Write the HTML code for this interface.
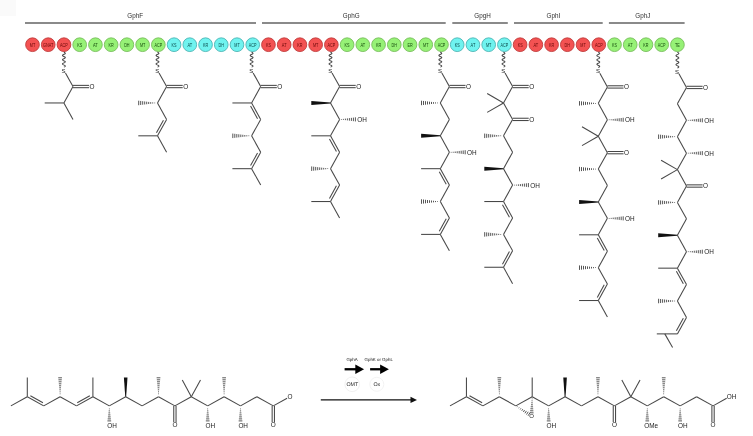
<!DOCTYPE html>
<html><head><meta charset="utf-8"><style>
html,body{margin:0;padding:0;background:#fff;}
body{width:753px;height:436px;overflow:hidden;font-family:"Liberation Sans",sans-serif;}
svg{display:block;will-change:transform;}
.gp{text-rendering:geometricPrecision;}
</style></head><body>
<svg width="753" height="436" viewBox="0 0 753 436">
<rect width="753" height="436" fill="#fff"/>
<rect width="16" height="16" fill="#fafafa"/>
<rect x="25" y="22" width="231" height="2" fill="#8a8a8a"/>
<text x="135.2" y="17.6" font-size="6.3" text-anchor="middle" fill="#2e2e2e" font-weight="normal" font-family="Liberation Sans">GphF</text>
<rect x="262" y="22" width="183.7" height="2" fill="#8a8a8a"/>
<text x="351.2" y="17.6" font-size="6.3" text-anchor="middle" fill="#2e2e2e" font-weight="normal" font-family="Liberation Sans">GphG</text>
<rect x="452.3" y="22" width="55.5" height="2" fill="#8a8a8a"/>
<text x="482.5" y="17.6" font-size="6.3" text-anchor="middle" fill="#2e2e2e" font-weight="normal" font-family="Liberation Sans">GpgH</text>
<rect x="514" y="22" width="88.7" height="2" fill="#8a8a8a"/>
<text x="553.4" y="17.6" font-size="6.3" text-anchor="middle" fill="#2e2e2e" font-weight="normal" font-family="Liberation Sans">GphI</text>
<rect x="608.9" y="22" width="75.7" height="2" fill="#8a8a8a"/>
<text x="642.8" y="17.6" font-size="6.3" text-anchor="middle" fill="#2e2e2e" font-weight="normal" font-family="Liberation Sans">GphJ</text>
<circle cx="32.5" cy="44.7" r="6.85" fill="#f35252" stroke="#c03c3c" stroke-width="0.9"/>
<text x="32.5" y="46.5" font-size="5.0" text-anchor="middle" fill="#6a0808" font-family="Liberation Sans" textLength="5.42" lengthAdjust="spacingAndGlyphs">MT</text>
<circle cx="48.23" cy="44.7" r="6.85" fill="#f35252" stroke="#c03c3c" stroke-width="0.9"/>
<text x="48.23" y="46.5" font-size="5.0" text-anchor="middle" fill="#6a0808" font-family="Liberation Sans" textLength="10.4" lengthAdjust="spacingAndGlyphs">GNAT</text>
<circle cx="63.96" cy="44.7" r="6.85" fill="#f35252" stroke="#c03c3c" stroke-width="0.9"/>
<text x="63.96" y="46.5" font-size="5.0" text-anchor="middle" fill="#6a0808" font-family="Liberation Sans" textLength="7.71" lengthAdjust="spacingAndGlyphs">ACP</text>
<circle cx="79.69" cy="44.7" r="6.85" fill="#96f176" stroke="#78bd5c" stroke-width="0.9"/>
<text x="79.69" y="46.5" font-size="5.0" text-anchor="middle" fill="#164d0c" font-family="Liberation Sans" textLength="5" lengthAdjust="spacingAndGlyphs">KS</text>
<circle cx="95.42" cy="44.7" r="6.85" fill="#96f176" stroke="#78bd5c" stroke-width="0.9"/>
<text x="95.42" y="46.5" font-size="5.0" text-anchor="middle" fill="#164d0c" font-family="Liberation Sans" textLength="4.79" lengthAdjust="spacingAndGlyphs">AT</text>
<circle cx="111.15" cy="44.7" r="6.85" fill="#96f176" stroke="#78bd5c" stroke-width="0.9"/>
<text x="111.15" y="46.5" font-size="5.0" text-anchor="middle" fill="#164d0c" font-family="Liberation Sans" textLength="5.21" lengthAdjust="spacingAndGlyphs">KR</text>
<circle cx="126.88" cy="44.7" r="6.85" fill="#96f176" stroke="#78bd5c" stroke-width="0.9"/>
<text x="126.88" y="46.5" font-size="5.0" text-anchor="middle" fill="#164d0c" font-family="Liberation Sans" textLength="5.42" lengthAdjust="spacingAndGlyphs">DH</text>
<circle cx="142.61" cy="44.7" r="6.85" fill="#96f176" stroke="#78bd5c" stroke-width="0.9"/>
<text x="142.61" y="46.5" font-size="5.0" text-anchor="middle" fill="#164d0c" font-family="Liberation Sans" textLength="5.42" lengthAdjust="spacingAndGlyphs">MT</text>
<circle cx="158.34" cy="44.7" r="6.85" fill="#96f176" stroke="#78bd5c" stroke-width="0.9"/>
<text x="158.34" y="46.5" font-size="5.0" text-anchor="middle" fill="#164d0c" font-family="Liberation Sans" textLength="7.71" lengthAdjust="spacingAndGlyphs">ACP</text>
<circle cx="174.07" cy="44.7" r="6.85" fill="#6ff3ef" stroke="#4db4b4" stroke-width="0.9"/>
<text x="174.07" y="46.5" font-size="5.0" text-anchor="middle" fill="#0a4a4a" font-family="Liberation Sans" textLength="5" lengthAdjust="spacingAndGlyphs">KS</text>
<circle cx="189.8" cy="44.7" r="6.85" fill="#6ff3ef" stroke="#4db4b4" stroke-width="0.9"/>
<text x="189.8" y="46.5" font-size="5.0" text-anchor="middle" fill="#0a4a4a" font-family="Liberation Sans" textLength="4.79" lengthAdjust="spacingAndGlyphs">AT</text>
<circle cx="205.53" cy="44.7" r="6.85" fill="#6ff3ef" stroke="#4db4b4" stroke-width="0.9"/>
<text x="205.53" y="46.5" font-size="5.0" text-anchor="middle" fill="#0a4a4a" font-family="Liberation Sans" textLength="5.21" lengthAdjust="spacingAndGlyphs">KR</text>
<circle cx="221.26" cy="44.7" r="6.85" fill="#6ff3ef" stroke="#4db4b4" stroke-width="0.9"/>
<text x="221.26" y="46.5" font-size="5.0" text-anchor="middle" fill="#0a4a4a" font-family="Liberation Sans" textLength="5.42" lengthAdjust="spacingAndGlyphs">DH</text>
<circle cx="236.99" cy="44.7" r="6.85" fill="#6ff3ef" stroke="#4db4b4" stroke-width="0.9"/>
<text x="236.99" y="46.5" font-size="5.0" text-anchor="middle" fill="#0a4a4a" font-family="Liberation Sans" textLength="5.42" lengthAdjust="spacingAndGlyphs">MT</text>
<circle cx="252.72" cy="44.7" r="6.85" fill="#6ff3ef" stroke="#4db4b4" stroke-width="0.9"/>
<text x="252.72" y="46.5" font-size="5.0" text-anchor="middle" fill="#0a4a4a" font-family="Liberation Sans" textLength="7.71" lengthAdjust="spacingAndGlyphs">ACP</text>
<circle cx="268.45" cy="44.7" r="6.85" fill="#f35252" stroke="#c03c3c" stroke-width="0.9"/>
<text x="268.45" y="46.5" font-size="5.0" text-anchor="middle" fill="#6a0808" font-family="Liberation Sans" textLength="5" lengthAdjust="spacingAndGlyphs">KS</text>
<circle cx="284.18" cy="44.7" r="6.85" fill="#f35252" stroke="#c03c3c" stroke-width="0.9"/>
<text x="284.18" y="46.5" font-size="5.0" text-anchor="middle" fill="#6a0808" font-family="Liberation Sans" textLength="4.79" lengthAdjust="spacingAndGlyphs">AT</text>
<circle cx="299.91" cy="44.7" r="6.85" fill="#f35252" stroke="#c03c3c" stroke-width="0.9"/>
<text x="299.91" y="46.5" font-size="5.0" text-anchor="middle" fill="#6a0808" font-family="Liberation Sans" textLength="5.21" lengthAdjust="spacingAndGlyphs">KR</text>
<circle cx="315.64" cy="44.7" r="6.85" fill="#f35252" stroke="#c03c3c" stroke-width="0.9"/>
<text x="315.64" y="46.5" font-size="5.0" text-anchor="middle" fill="#6a0808" font-family="Liberation Sans" textLength="5.42" lengthAdjust="spacingAndGlyphs">MT</text>
<circle cx="331.37" cy="44.7" r="6.85" fill="#f35252" stroke="#c03c3c" stroke-width="0.9"/>
<text x="331.37" y="46.5" font-size="5.0" text-anchor="middle" fill="#6a0808" font-family="Liberation Sans" textLength="7.71" lengthAdjust="spacingAndGlyphs">ACP</text>
<circle cx="347.1" cy="44.7" r="6.85" fill="#96f176" stroke="#78bd5c" stroke-width="0.9"/>
<text x="347.1" y="46.5" font-size="5.0" text-anchor="middle" fill="#164d0c" font-family="Liberation Sans" textLength="5" lengthAdjust="spacingAndGlyphs">KS</text>
<circle cx="362.83" cy="44.7" r="6.85" fill="#96f176" stroke="#78bd5c" stroke-width="0.9"/>
<text x="362.83" y="46.5" font-size="5.0" text-anchor="middle" fill="#164d0c" font-family="Liberation Sans" textLength="4.79" lengthAdjust="spacingAndGlyphs">AT</text>
<circle cx="378.56" cy="44.7" r="6.85" fill="#96f176" stroke="#78bd5c" stroke-width="0.9"/>
<text x="378.56" y="46.5" font-size="5.0" text-anchor="middle" fill="#164d0c" font-family="Liberation Sans" textLength="5.21" lengthAdjust="spacingAndGlyphs">KR</text>
<circle cx="394.29" cy="44.7" r="6.85" fill="#96f176" stroke="#78bd5c" stroke-width="0.9"/>
<text x="394.29" y="46.5" font-size="5.0" text-anchor="middle" fill="#164d0c" font-family="Liberation Sans" textLength="5.42" lengthAdjust="spacingAndGlyphs">DH</text>
<circle cx="410.02" cy="44.7" r="6.85" fill="#96f176" stroke="#78bd5c" stroke-width="0.9"/>
<text x="410.02" y="46.5" font-size="5.0" text-anchor="middle" fill="#164d0c" font-family="Liberation Sans" textLength="5.21" lengthAdjust="spacingAndGlyphs">ER</text>
<circle cx="425.75" cy="44.7" r="6.85" fill="#96f176" stroke="#78bd5c" stroke-width="0.9"/>
<text x="425.75" y="46.5" font-size="5.0" text-anchor="middle" fill="#164d0c" font-family="Liberation Sans" textLength="5.42" lengthAdjust="spacingAndGlyphs">MT</text>
<circle cx="441.48" cy="44.7" r="6.85" fill="#96f176" stroke="#78bd5c" stroke-width="0.9"/>
<text x="441.48" y="46.5" font-size="5.0" text-anchor="middle" fill="#164d0c" font-family="Liberation Sans" textLength="7.71" lengthAdjust="spacingAndGlyphs">ACP</text>
<circle cx="457.21" cy="44.7" r="6.85" fill="#6ff3ef" stroke="#4db4b4" stroke-width="0.9"/>
<text x="457.21" y="46.5" font-size="5.0" text-anchor="middle" fill="#0a4a4a" font-family="Liberation Sans" textLength="5" lengthAdjust="spacingAndGlyphs">KS</text>
<circle cx="472.94" cy="44.7" r="6.85" fill="#6ff3ef" stroke="#4db4b4" stroke-width="0.9"/>
<text x="472.94" y="46.5" font-size="5.0" text-anchor="middle" fill="#0a4a4a" font-family="Liberation Sans" textLength="4.79" lengthAdjust="spacingAndGlyphs">AT</text>
<circle cx="488.67" cy="44.7" r="6.85" fill="#6ff3ef" stroke="#4db4b4" stroke-width="0.9"/>
<text x="488.67" y="46.5" font-size="5.0" text-anchor="middle" fill="#0a4a4a" font-family="Liberation Sans" textLength="5.42" lengthAdjust="spacingAndGlyphs">MT</text>
<circle cx="504.4" cy="44.7" r="6.85" fill="#6ff3ef" stroke="#4db4b4" stroke-width="0.9"/>
<text x="504.4" y="46.5" font-size="5.0" text-anchor="middle" fill="#0a4a4a" font-family="Liberation Sans" textLength="7.71" lengthAdjust="spacingAndGlyphs">ACP</text>
<circle cx="520.13" cy="44.7" r="6.85" fill="#f35252" stroke="#c03c3c" stroke-width="0.9"/>
<text x="520.13" y="46.5" font-size="5.0" text-anchor="middle" fill="#6a0808" font-family="Liberation Sans" textLength="5" lengthAdjust="spacingAndGlyphs">KS</text>
<circle cx="535.86" cy="44.7" r="6.85" fill="#f35252" stroke="#c03c3c" stroke-width="0.9"/>
<text x="535.86" y="46.5" font-size="5.0" text-anchor="middle" fill="#6a0808" font-family="Liberation Sans" textLength="4.79" lengthAdjust="spacingAndGlyphs">AT</text>
<circle cx="551.59" cy="44.7" r="6.85" fill="#f35252" stroke="#c03c3c" stroke-width="0.9"/>
<text x="551.59" y="46.5" font-size="5.0" text-anchor="middle" fill="#6a0808" font-family="Liberation Sans" textLength="5.21" lengthAdjust="spacingAndGlyphs">KR</text>
<circle cx="567.32" cy="44.7" r="6.85" fill="#f35252" stroke="#c03c3c" stroke-width="0.9"/>
<text x="567.32" y="46.5" font-size="5.0" text-anchor="middle" fill="#6a0808" font-family="Liberation Sans" textLength="5.42" lengthAdjust="spacingAndGlyphs">DH</text>
<circle cx="583.05" cy="44.7" r="6.85" fill="#f35252" stroke="#c03c3c" stroke-width="0.9"/>
<text x="583.05" y="46.5" font-size="5.0" text-anchor="middle" fill="#6a0808" font-family="Liberation Sans" textLength="5.42" lengthAdjust="spacingAndGlyphs">MT</text>
<circle cx="598.78" cy="44.7" r="6.85" fill="#f35252" stroke="#c03c3c" stroke-width="0.9"/>
<text x="598.78" y="46.5" font-size="5.0" text-anchor="middle" fill="#6a0808" font-family="Liberation Sans" textLength="7.71" lengthAdjust="spacingAndGlyphs">ACP</text>
<circle cx="614.51" cy="44.7" r="6.85" fill="#96f176" stroke="#78bd5c" stroke-width="0.9"/>
<text x="614.51" y="46.5" font-size="5.0" text-anchor="middle" fill="#164d0c" font-family="Liberation Sans" textLength="5" lengthAdjust="spacingAndGlyphs">KS</text>
<circle cx="630.24" cy="44.7" r="6.85" fill="#96f176" stroke="#78bd5c" stroke-width="0.9"/>
<text x="630.24" y="46.5" font-size="5.0" text-anchor="middle" fill="#164d0c" font-family="Liberation Sans" textLength="4.79" lengthAdjust="spacingAndGlyphs">AT</text>
<circle cx="645.97" cy="44.7" r="6.85" fill="#96f176" stroke="#78bd5c" stroke-width="0.9"/>
<text x="645.97" y="46.5" font-size="5.0" text-anchor="middle" fill="#164d0c" font-family="Liberation Sans" textLength="5.21" lengthAdjust="spacingAndGlyphs">KR</text>
<circle cx="661.7" cy="44.7" r="6.85" fill="#96f176" stroke="#78bd5c" stroke-width="0.9"/>
<text x="661.7" y="46.5" font-size="5.0" text-anchor="middle" fill="#164d0c" font-family="Liberation Sans" textLength="7.71" lengthAdjust="spacingAndGlyphs">ACP</text>
<circle cx="677.43" cy="44.7" r="6.85" fill="#96f176" stroke="#78bd5c" stroke-width="0.9"/>
<text x="677.43" y="46.5" font-size="5.0" text-anchor="middle" fill="#164d0c" font-family="Liberation Sans" textLength="4.79" lengthAdjust="spacingAndGlyphs">TE</text>
<polyline points="63.9,52.3 64.4,52.55 64.84,52.79 65.15,53.04 65.29,53.29 65.25,53.53 65.03,53.78 64.66,54.03 64.19,54.27 63.68,54.52 63.2,54.77 62.81,55.01 62.57,55.26 62.5,55.51 62.62,55.75 62.91,56 63.33,56.25 63.83,56.49 64.33,56.74 64.78,56.99 65.11,57.23 65.28,57.48 65.27,57.73 65.07,57.97 64.72,58.22 64.26,58.47 63.75,58.71 63.26,58.96 62.86,59.21 62.59,59.45 62.5,59.7 62.59,59.95 62.86,60.19 63.26,60.44 63.75,60.69 64.26,60.93 64.72,61.18 65.07,61.43 65.27,61.67 65.28,61.92 65.11,62.17 64.78,62.41 64.33,62.66 63.83,62.91 63.33,63.15 62.91,63.4 62.62,63.65 62.5,63.89 62.57,64.14 62.81,64.39 63.2,64.63 63.68,64.88 64.19,65.13 64.66,65.37 65.03,65.62 65.25,65.87 65.29,66.11 65.15,66.36 64.84,66.61 64.4,66.85 63.9,67.1" fill="none" stroke="#474747" stroke-width="1.05"/>
<text x="63.6" y="72.86" font-size="6.0" text-anchor="middle" fill="#161616" font-weight="normal" font-family="Liberation Sans">S</text>
<line x1="65.45" y1="72.9" x2="73" y2="86.53" stroke="#474747" stroke-width="1.05"/>
<line x1="73" y1="86.53" x2="63.9" y2="102.96" stroke="#474747" stroke-width="1.05"/>
<line x1="63.9" y1="102.96" x2="73" y2="119.39" stroke="#474747" stroke-width="1.05"/>
<line x1="73" y1="85.38" x2="89.1" y2="85.38" stroke="#474747" stroke-width="1.05"/>
<line x1="73" y1="87.68" x2="89.1" y2="87.68" stroke="#474747" stroke-width="1.05"/>
<text x="92.1" y="88.83" font-size="6.4" text-anchor="middle" fill="#222" font-weight="normal" font-family="Liberation Sans">O</text>
<line x1="63.9" y1="102.96" x2="44.7" y2="102.96" stroke="#474747" stroke-width="1.05"/>
<polyline points="157.5,52.3 158,52.55 158.44,52.79 158.75,53.04 158.89,53.29 158.85,53.53 158.63,53.78 158.26,54.03 157.79,54.27 157.28,54.52 156.8,54.77 156.41,55.01 156.17,55.26 156.1,55.51 156.22,55.75 156.51,56 156.93,56.25 157.43,56.49 157.93,56.74 158.38,56.99 158.71,57.23 158.88,57.48 158.87,57.73 158.67,57.97 158.32,58.22 157.86,58.47 157.35,58.71 156.86,58.96 156.46,59.21 156.19,59.45 156.1,59.7 156.19,59.95 156.46,60.19 156.86,60.44 157.35,60.69 157.86,60.93 158.32,61.18 158.67,61.43 158.87,61.67 158.88,61.92 158.71,62.17 158.38,62.41 157.93,62.66 157.43,62.91 156.93,63.15 156.51,63.4 156.22,63.65 156.1,63.89 156.17,64.14 156.41,64.39 156.8,64.63 157.28,64.88 157.79,65.13 158.26,65.37 158.63,65.62 158.85,65.87 158.89,66.11 158.75,66.36 158.44,66.61 158,66.85 157.5,67.1" fill="none" stroke="#474747" stroke-width="1.05"/>
<text x="157.2" y="72.86" font-size="6.0" text-anchor="middle" fill="#161616" font-weight="normal" font-family="Liberation Sans">S</text>
<line x1="159.05" y1="72.9" x2="166.6" y2="86.53" stroke="#474747" stroke-width="1.05"/>
<line x1="166.6" y1="86.53" x2="157.5" y2="102.96" stroke="#474747" stroke-width="1.05"/>
<line x1="157.5" y1="102.96" x2="166.6" y2="119.39" stroke="#474747" stroke-width="1.05"/>
<line x1="166.6" y1="119.39" x2="157.5" y2="135.82" stroke="#474747" stroke-width="1.05"/>
<line x1="163.43" y1="120.15" x2="156.47" y2="132.73" stroke="#474747" stroke-width="1.05"/>
<line x1="157.5" y1="135.82" x2="166.6" y2="152.25" stroke="#474747" stroke-width="1.05"/>
<line x1="166.6" y1="85.38" x2="182.7" y2="85.38" stroke="#474747" stroke-width="1.05"/>
<line x1="166.6" y1="87.68" x2="182.7" y2="87.68" stroke="#474747" stroke-width="1.05"/>
<text x="185.7" y="88.83" font-size="6.4" text-anchor="middle" fill="#222" font-weight="normal" font-family="Liberation Sans">O</text>
<line x1="138.7" y1="100.71" x2="138.7" y2="105.21" stroke="#383838" stroke-width="0.85"/>
<line x1="140.7" y1="100.95" x2="140.7" y2="104.97" stroke="#383838" stroke-width="0.85"/>
<line x1="142.7" y1="101.19" x2="142.7" y2="104.73" stroke="#383838" stroke-width="0.85"/>
<line x1="144.7" y1="101.43" x2="144.7" y2="104.49" stroke="#383838" stroke-width="0.85"/>
<line x1="146.7" y1="101.67" x2="146.7" y2="104.25" stroke="#383838" stroke-width="0.85"/>
<line x1="148.7" y1="101.91" x2="148.7" y2="104.01" stroke="#383838" stroke-width="0.85"/>
<line x1="150.7" y1="102.15" x2="150.7" y2="103.77" stroke="#383838" stroke-width="0.85"/>
<line x1="152.7" y1="102.38" x2="152.7" y2="103.53" stroke="#383838" stroke-width="0.85"/>
<line x1="154.7" y1="102.61" x2="154.7" y2="103.31" stroke="#383838" stroke-width="0.85"/>
<line x1="157.5" y1="135.82" x2="138.3" y2="135.82" stroke="#474747" stroke-width="1.05"/>
<polyline points="251.6,52.3 252.1,52.55 252.54,52.79 252.85,53.04 252.99,53.29 252.95,53.53 252.73,53.78 252.36,54.03 251.89,54.27 251.38,54.52 250.9,54.77 250.51,55.01 250.27,55.26 250.2,55.51 250.32,55.75 250.61,56 251.03,56.25 251.53,56.49 252.03,56.74 252.48,56.99 252.81,57.23 252.98,57.48 252.97,57.73 252.77,57.97 252.42,58.22 251.96,58.47 251.45,58.71 250.96,58.96 250.56,59.21 250.29,59.45 250.2,59.7 250.29,59.95 250.56,60.19 250.96,60.44 251.45,60.69 251.96,60.93 252.42,61.18 252.77,61.43 252.97,61.67 252.98,61.92 252.81,62.17 252.48,62.41 252.03,62.66 251.53,62.91 251.03,63.15 250.61,63.4 250.32,63.65 250.2,63.89 250.27,64.14 250.51,64.39 250.9,64.63 251.38,64.88 251.89,65.13 252.36,65.37 252.73,65.62 252.95,65.87 252.99,66.11 252.85,66.36 252.54,66.61 252.1,66.85 251.6,67.1" fill="none" stroke="#474747" stroke-width="1.05"/>
<text x="251.3" y="72.86" font-size="6.0" text-anchor="middle" fill="#161616" font-weight="normal" font-family="Liberation Sans">S</text>
<line x1="253.15" y1="72.9" x2="260.7" y2="86.53" stroke="#474747" stroke-width="1.05"/>
<line x1="260.7" y1="86.53" x2="251.6" y2="102.96" stroke="#474747" stroke-width="1.05"/>
<line x1="251.6" y1="102.96" x2="260.7" y2="119.39" stroke="#474747" stroke-width="1.05"/>
<line x1="250.57" y1="106.05" x2="257.53" y2="118.63" stroke="#474747" stroke-width="1.05"/>
<line x1="260.7" y1="119.39" x2="251.6" y2="135.82" stroke="#474747" stroke-width="1.05"/>
<line x1="251.6" y1="135.82" x2="260.7" y2="152.25" stroke="#474747" stroke-width="1.05"/>
<line x1="260.7" y1="152.25" x2="251.6" y2="168.68" stroke="#474747" stroke-width="1.05"/>
<line x1="257.53" y1="153.01" x2="250.57" y2="165.59" stroke="#474747" stroke-width="1.05"/>
<line x1="251.6" y1="168.68" x2="260.7" y2="185.11" stroke="#474747" stroke-width="1.05"/>
<line x1="260.7" y1="85.38" x2="276.8" y2="85.38" stroke="#474747" stroke-width="1.05"/>
<line x1="260.7" y1="87.68" x2="276.8" y2="87.68" stroke="#474747" stroke-width="1.05"/>
<text x="279.8" y="88.83" font-size="6.4" text-anchor="middle" fill="#222" font-weight="normal" font-family="Liberation Sans">O</text>
<line x1="251.6" y1="102.96" x2="232.4" y2="102.96" stroke="#474747" stroke-width="1.05"/>
<line x1="232.8" y1="133.57" x2="232.8" y2="138.07" stroke="#383838" stroke-width="0.85"/>
<line x1="234.8" y1="133.81" x2="234.8" y2="137.83" stroke="#383838" stroke-width="0.85"/>
<line x1="236.8" y1="134.05" x2="236.8" y2="137.59" stroke="#383838" stroke-width="0.85"/>
<line x1="238.8" y1="134.29" x2="238.8" y2="137.35" stroke="#383838" stroke-width="0.85"/>
<line x1="240.8" y1="134.53" x2="240.8" y2="137.11" stroke="#383838" stroke-width="0.85"/>
<line x1="242.8" y1="134.77" x2="242.8" y2="136.87" stroke="#383838" stroke-width="0.85"/>
<line x1="244.8" y1="135.01" x2="244.8" y2="136.63" stroke="#383838" stroke-width="0.85"/>
<line x1="246.8" y1="135.25" x2="246.8" y2="136.39" stroke="#383838" stroke-width="0.85"/>
<line x1="248.8" y1="135.47" x2="248.8" y2="136.17" stroke="#383838" stroke-width="0.85"/>
<line x1="251.6" y1="168.68" x2="232.4" y2="168.68" stroke="#474747" stroke-width="1.05"/>
<polyline points="330.5,52.3 331,52.55 331.44,52.79 331.75,53.04 331.89,53.29 331.85,53.53 331.63,53.78 331.26,54.03 330.79,54.27 330.28,54.52 329.8,54.77 329.41,55.01 329.17,55.26 329.1,55.51 329.22,55.75 329.51,56 329.93,56.25 330.43,56.49 330.93,56.74 331.38,56.99 331.71,57.23 331.88,57.48 331.87,57.73 331.67,57.97 331.32,58.22 330.86,58.47 330.35,58.71 329.86,58.96 329.46,59.21 329.19,59.45 329.1,59.7 329.19,59.95 329.46,60.19 329.86,60.44 330.35,60.69 330.86,60.93 331.32,61.18 331.67,61.43 331.87,61.67 331.88,61.92 331.71,62.17 331.38,62.41 330.93,62.66 330.43,62.91 329.93,63.15 329.51,63.4 329.22,63.65 329.1,63.89 329.17,64.14 329.41,64.39 329.8,64.63 330.28,64.88 330.79,65.13 331.26,65.37 331.63,65.62 331.85,65.87 331.89,66.11 331.75,66.36 331.44,66.61 331,66.85 330.5,67.1" fill="none" stroke="#474747" stroke-width="1.05"/>
<text x="330.2" y="72.86" font-size="6.0" text-anchor="middle" fill="#161616" font-weight="normal" font-family="Liberation Sans">S</text>
<line x1="332.05" y1="72.9" x2="339.6" y2="86.53" stroke="#474747" stroke-width="1.05"/>
<line x1="339.6" y1="86.53" x2="330.5" y2="102.96" stroke="#474747" stroke-width="1.05"/>
<line x1="330.5" y1="102.96" x2="339.6" y2="119.39" stroke="#474747" stroke-width="1.05"/>
<line x1="339.6" y1="119.39" x2="330.5" y2="135.82" stroke="#474747" stroke-width="1.05"/>
<line x1="330.5" y1="135.82" x2="339.6" y2="152.25" stroke="#474747" stroke-width="1.05"/>
<line x1="329.47" y1="138.91" x2="336.43" y2="151.49" stroke="#474747" stroke-width="1.05"/>
<line x1="339.6" y1="152.25" x2="330.5" y2="168.68" stroke="#474747" stroke-width="1.05"/>
<line x1="330.5" y1="168.68" x2="339.6" y2="185.11" stroke="#474747" stroke-width="1.05"/>
<line x1="339.6" y1="185.11" x2="330.5" y2="201.54" stroke="#474747" stroke-width="1.05"/>
<line x1="336.43" y1="185.87" x2="329.47" y2="198.45" stroke="#474747" stroke-width="1.05"/>
<line x1="330.5" y1="201.54" x2="339.6" y2="217.97" stroke="#474747" stroke-width="1.05"/>
<line x1="339.6" y1="85.38" x2="355.7" y2="85.38" stroke="#474747" stroke-width="1.05"/>
<line x1="339.6" y1="87.68" x2="355.7" y2="87.68" stroke="#474747" stroke-width="1.05"/>
<text x="358.7" y="88.83" font-size="6.4" text-anchor="middle" fill="#222" font-weight="normal" font-family="Liberation Sans">O</text>
<polygon points="330.5,102.51 311.3,100.96 311.3,104.96 330.5,103.41" fill="#111"/>
<line x1="355.4" y1="121.44" x2="355.4" y2="117.34" stroke="#383838" stroke-width="0.85"/>
<line x1="353.4" y1="121.18" x2="353.4" y2="117.6" stroke="#383838" stroke-width="0.85"/>
<line x1="351.4" y1="120.92" x2="351.4" y2="117.86" stroke="#383838" stroke-width="0.85"/>
<line x1="349.4" y1="120.66" x2="349.4" y2="118.12" stroke="#383838" stroke-width="0.85"/>
<line x1="347.4" y1="120.4" x2="347.4" y2="118.38" stroke="#383838" stroke-width="0.85"/>
<line x1="345.4" y1="120.14" x2="345.4" y2="118.64" stroke="#383838" stroke-width="0.85"/>
<line x1="343.4" y1="119.88" x2="343.4" y2="118.9" stroke="#383838" stroke-width="0.85"/>
<line x1="341.4" y1="119.74" x2="341.4" y2="119.04" stroke="#383838" stroke-width="0.85"/>
<text x="357.3" y="121.84" font-size="6.4" text-anchor="start" fill="#222" font-weight="normal" font-family="Liberation Sans">OH</text>
<line x1="330.5" y1="135.82" x2="311.3" y2="135.82" stroke="#474747" stroke-width="1.05"/>
<line x1="311.7" y1="166.43" x2="311.7" y2="170.93" stroke="#383838" stroke-width="0.85"/>
<line x1="313.7" y1="166.67" x2="313.7" y2="170.69" stroke="#383838" stroke-width="0.85"/>
<line x1="315.7" y1="166.91" x2="315.7" y2="170.45" stroke="#383838" stroke-width="0.85"/>
<line x1="317.7" y1="167.15" x2="317.7" y2="170.21" stroke="#383838" stroke-width="0.85"/>
<line x1="319.7" y1="167.39" x2="319.7" y2="169.97" stroke="#383838" stroke-width="0.85"/>
<line x1="321.7" y1="167.63" x2="321.7" y2="169.73" stroke="#383838" stroke-width="0.85"/>
<line x1="323.7" y1="167.87" x2="323.7" y2="169.49" stroke="#383838" stroke-width="0.85"/>
<line x1="325.7" y1="168.11" x2="325.7" y2="169.25" stroke="#383838" stroke-width="0.85"/>
<line x1="327.7" y1="168.33" x2="327.7" y2="169.03" stroke="#383838" stroke-width="0.85"/>
<line x1="330.5" y1="201.54" x2="311.3" y2="201.54" stroke="#474747" stroke-width="1.05"/>
<polyline points="440.3,52.3 440.8,52.55 441.24,52.79 441.55,53.04 441.69,53.29 441.65,53.53 441.43,53.78 441.06,54.03 440.59,54.27 440.08,54.52 439.6,54.77 439.21,55.01 438.97,55.26 438.9,55.51 439.02,55.75 439.31,56 439.73,56.25 440.23,56.49 440.73,56.74 441.18,56.99 441.51,57.23 441.68,57.48 441.67,57.73 441.47,57.97 441.12,58.22 440.66,58.47 440.15,58.71 439.66,58.96 439.26,59.21 438.99,59.45 438.9,59.7 438.99,59.95 439.26,60.19 439.66,60.44 440.15,60.69 440.66,60.93 441.12,61.18 441.47,61.43 441.67,61.67 441.68,61.92 441.51,62.17 441.18,62.41 440.73,62.66 440.23,62.91 439.73,63.15 439.31,63.4 439.02,63.65 438.9,63.89 438.97,64.14 439.21,64.39 439.6,64.63 440.08,64.88 440.59,65.13 441.06,65.37 441.43,65.62 441.65,65.87 441.69,66.11 441.55,66.36 441.24,66.61 440.8,66.85 440.3,67.1" fill="none" stroke="#474747" stroke-width="1.05"/>
<text x="440" y="72.86" font-size="6.0" text-anchor="middle" fill="#161616" font-weight="normal" font-family="Liberation Sans">S</text>
<line x1="441.85" y1="72.9" x2="449.4" y2="86.53" stroke="#474747" stroke-width="1.05"/>
<line x1="449.4" y1="86.53" x2="440.3" y2="102.96" stroke="#474747" stroke-width="1.05"/>
<line x1="440.3" y1="102.96" x2="449.4" y2="119.39" stroke="#474747" stroke-width="1.05"/>
<line x1="449.4" y1="119.39" x2="440.3" y2="135.82" stroke="#474747" stroke-width="1.05"/>
<line x1="440.3" y1="135.82" x2="449.4" y2="152.25" stroke="#474747" stroke-width="1.05"/>
<line x1="449.4" y1="152.25" x2="440.3" y2="168.68" stroke="#474747" stroke-width="1.05"/>
<line x1="440.3" y1="168.68" x2="449.4" y2="185.11" stroke="#474747" stroke-width="1.05"/>
<line x1="439.27" y1="171.77" x2="446.23" y2="184.35" stroke="#474747" stroke-width="1.05"/>
<line x1="449.4" y1="185.11" x2="440.3" y2="201.54" stroke="#474747" stroke-width="1.05"/>
<line x1="440.3" y1="201.54" x2="449.4" y2="217.97" stroke="#474747" stroke-width="1.05"/>
<line x1="449.4" y1="217.97" x2="440.3" y2="234.4" stroke="#474747" stroke-width="1.05"/>
<line x1="446.23" y1="218.73" x2="439.27" y2="231.31" stroke="#474747" stroke-width="1.05"/>
<line x1="440.3" y1="234.4" x2="449.4" y2="250.83" stroke="#474747" stroke-width="1.05"/>
<line x1="449.4" y1="85.38" x2="465.5" y2="85.38" stroke="#474747" stroke-width="1.05"/>
<line x1="449.4" y1="87.68" x2="465.5" y2="87.68" stroke="#474747" stroke-width="1.05"/>
<text x="468.5" y="88.83" font-size="6.4" text-anchor="middle" fill="#222" font-weight="normal" font-family="Liberation Sans">O</text>
<line x1="421.5" y1="100.71" x2="421.5" y2="105.21" stroke="#383838" stroke-width="0.85"/>
<line x1="423.5" y1="100.95" x2="423.5" y2="104.97" stroke="#383838" stroke-width="0.85"/>
<line x1="425.5" y1="101.19" x2="425.5" y2="104.73" stroke="#383838" stroke-width="0.85"/>
<line x1="427.5" y1="101.43" x2="427.5" y2="104.49" stroke="#383838" stroke-width="0.85"/>
<line x1="429.5" y1="101.67" x2="429.5" y2="104.25" stroke="#383838" stroke-width="0.85"/>
<line x1="431.5" y1="101.91" x2="431.5" y2="104.01" stroke="#383838" stroke-width="0.85"/>
<line x1="433.5" y1="102.15" x2="433.5" y2="103.77" stroke="#383838" stroke-width="0.85"/>
<line x1="435.5" y1="102.38" x2="435.5" y2="103.53" stroke="#383838" stroke-width="0.85"/>
<line x1="437.5" y1="102.61" x2="437.5" y2="103.31" stroke="#383838" stroke-width="0.85"/>
<polygon points="440.3,135.37 421.1,133.82 421.1,137.82 440.3,136.27" fill="#111"/>
<line x1="465.2" y1="154.3" x2="465.2" y2="150.2" stroke="#383838" stroke-width="0.85"/>
<line x1="463.2" y1="154.04" x2="463.2" y2="150.46" stroke="#383838" stroke-width="0.85"/>
<line x1="461.2" y1="153.78" x2="461.2" y2="150.72" stroke="#383838" stroke-width="0.85"/>
<line x1="459.2" y1="153.52" x2="459.2" y2="150.98" stroke="#383838" stroke-width="0.85"/>
<line x1="457.2" y1="153.26" x2="457.2" y2="151.24" stroke="#383838" stroke-width="0.85"/>
<line x1="455.2" y1="153" x2="455.2" y2="151.5" stroke="#383838" stroke-width="0.85"/>
<line x1="453.2" y1="152.74" x2="453.2" y2="151.76" stroke="#383838" stroke-width="0.85"/>
<line x1="451.2" y1="152.6" x2="451.2" y2="151.9" stroke="#383838" stroke-width="0.85"/>
<text x="467.1" y="154.7" font-size="6.4" text-anchor="start" fill="#222" font-weight="normal" font-family="Liberation Sans">OH</text>
<line x1="440.3" y1="168.68" x2="421.1" y2="168.68" stroke="#474747" stroke-width="1.05"/>
<line x1="421.5" y1="199.29" x2="421.5" y2="203.79" stroke="#383838" stroke-width="0.85"/>
<line x1="423.5" y1="199.53" x2="423.5" y2="203.55" stroke="#383838" stroke-width="0.85"/>
<line x1="425.5" y1="199.77" x2="425.5" y2="203.31" stroke="#383838" stroke-width="0.85"/>
<line x1="427.5" y1="200.01" x2="427.5" y2="203.07" stroke="#383838" stroke-width="0.85"/>
<line x1="429.5" y1="200.25" x2="429.5" y2="202.83" stroke="#383838" stroke-width="0.85"/>
<line x1="431.5" y1="200.49" x2="431.5" y2="202.59" stroke="#383838" stroke-width="0.85"/>
<line x1="433.5" y1="200.73" x2="433.5" y2="202.35" stroke="#383838" stroke-width="0.85"/>
<line x1="435.5" y1="200.97" x2="435.5" y2="202.11" stroke="#383838" stroke-width="0.85"/>
<line x1="437.5" y1="201.19" x2="437.5" y2="201.89" stroke="#383838" stroke-width="0.85"/>
<line x1="440.3" y1="234.4" x2="421.1" y2="234.4" stroke="#474747" stroke-width="1.05"/>
<polyline points="503.5,52.3 504,52.55 504.44,52.79 504.75,53.04 504.89,53.29 504.85,53.53 504.63,53.78 504.26,54.03 503.79,54.27 503.28,54.52 502.8,54.77 502.41,55.01 502.17,55.26 502.1,55.51 502.22,55.75 502.51,56 502.93,56.25 503.43,56.49 503.93,56.74 504.38,56.99 504.71,57.23 504.88,57.48 504.87,57.73 504.67,57.97 504.32,58.22 503.86,58.47 503.35,58.71 502.86,58.96 502.46,59.21 502.19,59.45 502.1,59.7 502.19,59.95 502.46,60.19 502.86,60.44 503.35,60.69 503.86,60.93 504.32,61.18 504.67,61.43 504.87,61.67 504.88,61.92 504.71,62.17 504.38,62.41 503.93,62.66 503.43,62.91 502.93,63.15 502.51,63.4 502.22,63.65 502.1,63.89 502.17,64.14 502.41,64.39 502.8,64.63 503.28,64.88 503.79,65.13 504.26,65.37 504.63,65.62 504.85,65.87 504.89,66.11 504.75,66.36 504.44,66.61 504,66.85 503.5,67.1" fill="none" stroke="#474747" stroke-width="1.05"/>
<text x="503.2" y="72.86" font-size="6.0" text-anchor="middle" fill="#161616" font-weight="normal" font-family="Liberation Sans">S</text>
<line x1="505.05" y1="72.9" x2="512.6" y2="86.53" stroke="#474747" stroke-width="1.05"/>
<line x1="512.6" y1="86.53" x2="503.5" y2="102.96" stroke="#474747" stroke-width="1.05"/>
<line x1="503.5" y1="102.96" x2="512.6" y2="119.39" stroke="#474747" stroke-width="1.05"/>
<line x1="512.6" y1="119.39" x2="503.5" y2="135.82" stroke="#474747" stroke-width="1.05"/>
<line x1="503.5" y1="135.82" x2="512.6" y2="152.25" stroke="#474747" stroke-width="1.05"/>
<line x1="512.6" y1="152.25" x2="503.5" y2="168.68" stroke="#474747" stroke-width="1.05"/>
<line x1="503.5" y1="168.68" x2="512.6" y2="185.11" stroke="#474747" stroke-width="1.05"/>
<line x1="512.6" y1="185.11" x2="503.5" y2="201.54" stroke="#474747" stroke-width="1.05"/>
<line x1="503.5" y1="201.54" x2="512.6" y2="217.97" stroke="#474747" stroke-width="1.05"/>
<line x1="502.47" y1="204.63" x2="509.43" y2="217.21" stroke="#474747" stroke-width="1.05"/>
<line x1="512.6" y1="217.97" x2="503.5" y2="234.4" stroke="#474747" stroke-width="1.05"/>
<line x1="503.5" y1="234.4" x2="512.6" y2="250.83" stroke="#474747" stroke-width="1.05"/>
<line x1="512.6" y1="250.83" x2="503.5" y2="267.26" stroke="#474747" stroke-width="1.05"/>
<line x1="509.43" y1="251.59" x2="502.47" y2="264.17" stroke="#474747" stroke-width="1.05"/>
<line x1="503.5" y1="267.26" x2="512.6" y2="283.69" stroke="#474747" stroke-width="1.05"/>
<line x1="512.6" y1="85.38" x2="528.7" y2="85.38" stroke="#474747" stroke-width="1.05"/>
<line x1="512.6" y1="87.68" x2="528.7" y2="87.68" stroke="#474747" stroke-width="1.05"/>
<text x="531.7" y="88.83" font-size="6.4" text-anchor="middle" fill="#222" font-weight="normal" font-family="Liberation Sans">O</text>
<line x1="503.5" y1="102.96" x2="487.2" y2="93.56" stroke="#474747" stroke-width="1.05"/>
<line x1="503.5" y1="102.96" x2="487.2" y2="112.36" stroke="#474747" stroke-width="1.05"/>
<line x1="512.6" y1="118.24" x2="528.7" y2="118.24" stroke="#474747" stroke-width="1.05"/>
<line x1="512.6" y1="120.54" x2="528.7" y2="120.54" stroke="#474747" stroke-width="1.05"/>
<text x="531.7" y="121.69" font-size="6.4" text-anchor="middle" fill="#222" font-weight="normal" font-family="Liberation Sans">O</text>
<line x1="484.7" y1="133.57" x2="484.7" y2="138.07" stroke="#383838" stroke-width="0.85"/>
<line x1="486.7" y1="133.81" x2="486.7" y2="137.83" stroke="#383838" stroke-width="0.85"/>
<line x1="488.7" y1="134.05" x2="488.7" y2="137.59" stroke="#383838" stroke-width="0.85"/>
<line x1="490.7" y1="134.29" x2="490.7" y2="137.35" stroke="#383838" stroke-width="0.85"/>
<line x1="492.7" y1="134.53" x2="492.7" y2="137.11" stroke="#383838" stroke-width="0.85"/>
<line x1="494.7" y1="134.77" x2="494.7" y2="136.87" stroke="#383838" stroke-width="0.85"/>
<line x1="496.7" y1="135.01" x2="496.7" y2="136.63" stroke="#383838" stroke-width="0.85"/>
<line x1="498.7" y1="135.25" x2="498.7" y2="136.39" stroke="#383838" stroke-width="0.85"/>
<line x1="500.7" y1="135.47" x2="500.7" y2="136.17" stroke="#383838" stroke-width="0.85"/>
<polygon points="503.5,168.23 484.3,166.68 484.3,170.68 503.5,169.13" fill="#111"/>
<line x1="528.4" y1="187.16" x2="528.4" y2="183.06" stroke="#383838" stroke-width="0.85"/>
<line x1="526.4" y1="186.9" x2="526.4" y2="183.32" stroke="#383838" stroke-width="0.85"/>
<line x1="524.4" y1="186.64" x2="524.4" y2="183.58" stroke="#383838" stroke-width="0.85"/>
<line x1="522.4" y1="186.38" x2="522.4" y2="183.84" stroke="#383838" stroke-width="0.85"/>
<line x1="520.4" y1="186.12" x2="520.4" y2="184.1" stroke="#383838" stroke-width="0.85"/>
<line x1="518.4" y1="185.86" x2="518.4" y2="184.36" stroke="#383838" stroke-width="0.85"/>
<line x1="516.4" y1="185.6" x2="516.4" y2="184.62" stroke="#383838" stroke-width="0.85"/>
<line x1="514.4" y1="185.46" x2="514.4" y2="184.76" stroke="#383838" stroke-width="0.85"/>
<text x="530.3" y="187.56" font-size="6.4" text-anchor="start" fill="#222" font-weight="normal" font-family="Liberation Sans">OH</text>
<line x1="503.5" y1="201.54" x2="484.3" y2="201.54" stroke="#474747" stroke-width="1.05"/>
<line x1="484.7" y1="232.15" x2="484.7" y2="236.65" stroke="#383838" stroke-width="0.85"/>
<line x1="486.7" y1="232.39" x2="486.7" y2="236.41" stroke="#383838" stroke-width="0.85"/>
<line x1="488.7" y1="232.63" x2="488.7" y2="236.17" stroke="#383838" stroke-width="0.85"/>
<line x1="490.7" y1="232.87" x2="490.7" y2="235.93" stroke="#383838" stroke-width="0.85"/>
<line x1="492.7" y1="233.11" x2="492.7" y2="235.69" stroke="#383838" stroke-width="0.85"/>
<line x1="494.7" y1="233.35" x2="494.7" y2="235.45" stroke="#383838" stroke-width="0.85"/>
<line x1="496.7" y1="233.59" x2="496.7" y2="235.21" stroke="#383838" stroke-width="0.85"/>
<line x1="498.7" y1="233.83" x2="498.7" y2="234.97" stroke="#383838" stroke-width="0.85"/>
<line x1="500.7" y1="234.05" x2="500.7" y2="234.75" stroke="#383838" stroke-width="0.85"/>
<line x1="503.5" y1="267.26" x2="484.3" y2="267.26" stroke="#474747" stroke-width="1.05"/>
<polyline points="598.3,52.3 598.8,52.55 599.24,52.81 599.55,53.06 599.69,53.31 599.65,53.57 599.43,53.82 599.06,54.07 598.59,54.33 598.08,54.58 597.6,54.83 597.21,55.09 596.97,55.34 596.9,55.59 597.02,55.85 597.31,56.1 597.73,56.35 598.23,56.61 598.73,56.86 599.18,57.11 599.51,57.37 599.68,57.62 599.67,57.87 599.47,58.13 599.12,58.38 598.66,58.63 598.15,58.89 597.66,59.14 597.26,59.39 596.99,59.65 596.9,59.9 596.99,60.15 597.26,60.41 597.66,60.66 598.15,60.91 598.66,61.17 599.12,61.42 599.47,61.67 599.67,61.93 599.68,62.18 599.51,62.43 599.18,62.69 598.73,62.94 598.23,63.19 597.73,63.45 597.31,63.7 597.02,63.95 596.9,64.21 596.97,64.46 597.21,64.71 597.6,64.97 598.08,65.22 598.59,65.47 599.06,65.73 599.43,65.98 599.65,66.23 599.69,66.49 599.55,66.74 599.24,66.99 598.8,67.25 598.3,67.5" fill="none" stroke="#474747" stroke-width="1.05"/>
<text x="598" y="73.26" font-size="6.0" text-anchor="middle" fill="#161616" font-weight="normal" font-family="Liberation Sans">S</text>
<line x1="599.85" y1="73.3" x2="607.4" y2="86.93" stroke="#474747" stroke-width="1.05"/>
<line x1="607.4" y1="86.93" x2="598.3" y2="103.36" stroke="#474747" stroke-width="1.05"/>
<line x1="598.3" y1="103.36" x2="607.4" y2="119.79" stroke="#474747" stroke-width="1.05"/>
<line x1="607.4" y1="119.79" x2="598.3" y2="136.22" stroke="#474747" stroke-width="1.05"/>
<line x1="598.3" y1="136.22" x2="607.4" y2="152.65" stroke="#474747" stroke-width="1.05"/>
<line x1="607.4" y1="152.65" x2="598.3" y2="169.08" stroke="#474747" stroke-width="1.05"/>
<line x1="598.3" y1="169.08" x2="607.4" y2="185.51" stroke="#474747" stroke-width="1.05"/>
<line x1="607.4" y1="185.51" x2="598.3" y2="201.94" stroke="#474747" stroke-width="1.05"/>
<line x1="598.3" y1="201.94" x2="607.4" y2="218.37" stroke="#474747" stroke-width="1.05"/>
<line x1="607.4" y1="218.37" x2="598.3" y2="234.8" stroke="#474747" stroke-width="1.05"/>
<line x1="598.3" y1="234.8" x2="607.4" y2="251.23" stroke="#474747" stroke-width="1.05"/>
<line x1="597.27" y1="237.89" x2="604.23" y2="250.47" stroke="#474747" stroke-width="1.05"/>
<line x1="607.4" y1="251.23" x2="598.3" y2="267.66" stroke="#474747" stroke-width="1.05"/>
<line x1="598.3" y1="267.66" x2="607.4" y2="284.09" stroke="#474747" stroke-width="1.05"/>
<line x1="607.4" y1="284.09" x2="598.3" y2="300.52" stroke="#474747" stroke-width="1.05"/>
<line x1="604.23" y1="284.85" x2="597.27" y2="297.43" stroke="#474747" stroke-width="1.05"/>
<line x1="598.3" y1="300.52" x2="607.4" y2="316.95" stroke="#474747" stroke-width="1.05"/>
<line x1="607.4" y1="85.78" x2="623.5" y2="85.78" stroke="#474747" stroke-width="1.05"/>
<line x1="607.4" y1="88.08" x2="623.5" y2="88.08" stroke="#474747" stroke-width="1.05"/>
<text x="626.5" y="89.23" font-size="6.4" text-anchor="middle" fill="#222" font-weight="normal" font-family="Liberation Sans">O</text>
<line x1="579.5" y1="101.11" x2="579.5" y2="105.61" stroke="#383838" stroke-width="0.85"/>
<line x1="581.5" y1="101.35" x2="581.5" y2="105.37" stroke="#383838" stroke-width="0.85"/>
<line x1="583.5" y1="101.59" x2="583.5" y2="105.13" stroke="#383838" stroke-width="0.85"/>
<line x1="585.5" y1="101.83" x2="585.5" y2="104.89" stroke="#383838" stroke-width="0.85"/>
<line x1="587.5" y1="102.07" x2="587.5" y2="104.65" stroke="#383838" stroke-width="0.85"/>
<line x1="589.5" y1="102.31" x2="589.5" y2="104.41" stroke="#383838" stroke-width="0.85"/>
<line x1="591.5" y1="102.55" x2="591.5" y2="104.17" stroke="#383838" stroke-width="0.85"/>
<line x1="593.5" y1="102.78" x2="593.5" y2="103.94" stroke="#383838" stroke-width="0.85"/>
<line x1="595.5" y1="103.01" x2="595.5" y2="103.71" stroke="#383838" stroke-width="0.85"/>
<line x1="623.2" y1="121.84" x2="623.2" y2="117.74" stroke="#383838" stroke-width="0.85"/>
<line x1="621.2" y1="121.58" x2="621.2" y2="118" stroke="#383838" stroke-width="0.85"/>
<line x1="619.2" y1="121.32" x2="619.2" y2="118.26" stroke="#383838" stroke-width="0.85"/>
<line x1="617.2" y1="121.06" x2="617.2" y2="118.52" stroke="#383838" stroke-width="0.85"/>
<line x1="615.2" y1="120.8" x2="615.2" y2="118.78" stroke="#383838" stroke-width="0.85"/>
<line x1="613.2" y1="120.54" x2="613.2" y2="119.04" stroke="#383838" stroke-width="0.85"/>
<line x1="611.2" y1="120.28" x2="611.2" y2="119.3" stroke="#383838" stroke-width="0.85"/>
<line x1="609.2" y1="120.14" x2="609.2" y2="119.44" stroke="#383838" stroke-width="0.85"/>
<text x="625.1" y="122.24" font-size="6.4" text-anchor="start" fill="#222" font-weight="normal" font-family="Liberation Sans">OH</text>
<line x1="598.3" y1="136.22" x2="582" y2="126.82" stroke="#474747" stroke-width="1.05"/>
<line x1="598.3" y1="136.22" x2="582" y2="145.62" stroke="#474747" stroke-width="1.05"/>
<line x1="607.4" y1="151.5" x2="623.5" y2="151.5" stroke="#474747" stroke-width="1.05"/>
<line x1="607.4" y1="153.8" x2="623.5" y2="153.8" stroke="#474747" stroke-width="1.05"/>
<text x="626.5" y="154.95" font-size="6.4" text-anchor="middle" fill="#222" font-weight="normal" font-family="Liberation Sans">O</text>
<line x1="579.5" y1="166.83" x2="579.5" y2="171.33" stroke="#383838" stroke-width="0.85"/>
<line x1="581.5" y1="167.07" x2="581.5" y2="171.09" stroke="#383838" stroke-width="0.85"/>
<line x1="583.5" y1="167.31" x2="583.5" y2="170.85" stroke="#383838" stroke-width="0.85"/>
<line x1="585.5" y1="167.55" x2="585.5" y2="170.61" stroke="#383838" stroke-width="0.85"/>
<line x1="587.5" y1="167.79" x2="587.5" y2="170.37" stroke="#383838" stroke-width="0.85"/>
<line x1="589.5" y1="168.03" x2="589.5" y2="170.13" stroke="#383838" stroke-width="0.85"/>
<line x1="591.5" y1="168.27" x2="591.5" y2="169.89" stroke="#383838" stroke-width="0.85"/>
<line x1="593.5" y1="168.5" x2="593.5" y2="169.66" stroke="#383838" stroke-width="0.85"/>
<line x1="595.5" y1="168.73" x2="595.5" y2="169.43" stroke="#383838" stroke-width="0.85"/>
<polygon points="598.3,201.49 579.1,199.94 579.1,203.94 598.3,202.39" fill="#111"/>
<line x1="623.2" y1="220.42" x2="623.2" y2="216.32" stroke="#383838" stroke-width="0.85"/>
<line x1="621.2" y1="220.16" x2="621.2" y2="216.58" stroke="#383838" stroke-width="0.85"/>
<line x1="619.2" y1="219.9" x2="619.2" y2="216.84" stroke="#383838" stroke-width="0.85"/>
<line x1="617.2" y1="219.64" x2="617.2" y2="217.1" stroke="#383838" stroke-width="0.85"/>
<line x1="615.2" y1="219.38" x2="615.2" y2="217.36" stroke="#383838" stroke-width="0.85"/>
<line x1="613.2" y1="219.12" x2="613.2" y2="217.62" stroke="#383838" stroke-width="0.85"/>
<line x1="611.2" y1="218.86" x2="611.2" y2="217.88" stroke="#383838" stroke-width="0.85"/>
<line x1="609.2" y1="218.72" x2="609.2" y2="218.02" stroke="#383838" stroke-width="0.85"/>
<text x="625.1" y="220.82" font-size="6.4" text-anchor="start" fill="#222" font-weight="normal" font-family="Liberation Sans">OH</text>
<line x1="598.3" y1="234.8" x2="579.1" y2="234.8" stroke="#474747" stroke-width="1.05"/>
<line x1="579.5" y1="265.41" x2="579.5" y2="269.91" stroke="#383838" stroke-width="0.85"/>
<line x1="581.5" y1="265.65" x2="581.5" y2="269.67" stroke="#383838" stroke-width="0.85"/>
<line x1="583.5" y1="265.89" x2="583.5" y2="269.43" stroke="#383838" stroke-width="0.85"/>
<line x1="585.5" y1="266.13" x2="585.5" y2="269.19" stroke="#383838" stroke-width="0.85"/>
<line x1="587.5" y1="266.37" x2="587.5" y2="268.95" stroke="#383838" stroke-width="0.85"/>
<line x1="589.5" y1="266.61" x2="589.5" y2="268.71" stroke="#383838" stroke-width="0.85"/>
<line x1="591.5" y1="266.85" x2="591.5" y2="268.47" stroke="#383838" stroke-width="0.85"/>
<line x1="593.5" y1="267.08" x2="593.5" y2="268.23" stroke="#383838" stroke-width="0.85"/>
<line x1="595.5" y1="267.31" x2="595.5" y2="268.01" stroke="#383838" stroke-width="0.85"/>
<line x1="598.3" y1="300.52" x2="579.1" y2="300.52" stroke="#474747" stroke-width="1.05"/>
<polyline points="677.4,52.3 677.9,52.56 678.34,52.82 678.65,53.08 678.79,53.35 678.75,53.61 678.53,53.87 678.16,54.13 677.69,54.39 677.18,54.66 676.7,54.92 676.31,55.18 676.07,55.44 676,55.7 676.12,55.96 676.41,56.22 676.83,56.49 677.33,56.75 677.83,57.01 678.28,57.27 678.61,57.53 678.78,57.8 678.77,58.06 678.57,58.32 678.22,58.58 677.76,58.84 677.25,59.1 676.76,59.36 676.36,59.63 676.09,59.89 676,60.15 676.09,60.41 676.36,60.67 676.76,60.94 677.25,61.2 677.76,61.46 678.22,61.72 678.57,61.98 678.77,62.24 678.78,62.5 678.61,62.77 678.28,63.03 677.83,63.29 677.33,63.55 676.83,63.81 676.41,64.08 676.12,64.34 676,64.6 676.07,64.86 676.31,65.12 676.7,65.38 677.18,65.64 677.69,65.91 678.16,66.17 678.53,66.43 678.75,66.69 678.79,66.95 678.65,67.22 678.34,67.48 677.9,67.74 677.4,68" fill="none" stroke="#474747" stroke-width="1.05"/>
<text x="677.1" y="73.76" font-size="6.0" text-anchor="middle" fill="#161616" font-weight="normal" font-family="Liberation Sans">S</text>
<line x1="678.95" y1="73.8" x2="686.5" y2="87.43" stroke="#474747" stroke-width="1.05"/>
<line x1="686.5" y1="87.43" x2="677.4" y2="103.86" stroke="#474747" stroke-width="1.05"/>
<line x1="677.4" y1="103.86" x2="686.5" y2="120.29" stroke="#474747" stroke-width="1.05"/>
<line x1="686.5" y1="120.29" x2="677.4" y2="136.72" stroke="#474747" stroke-width="1.05"/>
<line x1="677.4" y1="136.72" x2="686.5" y2="153.15" stroke="#474747" stroke-width="1.05"/>
<line x1="686.5" y1="153.15" x2="677.4" y2="169.58" stroke="#474747" stroke-width="1.05"/>
<line x1="677.4" y1="169.58" x2="686.5" y2="186.01" stroke="#474747" stroke-width="1.05"/>
<line x1="686.5" y1="186.01" x2="677.4" y2="202.44" stroke="#474747" stroke-width="1.05"/>
<line x1="677.4" y1="202.44" x2="686.5" y2="218.87" stroke="#474747" stroke-width="1.05"/>
<line x1="686.5" y1="218.87" x2="677.4" y2="235.3" stroke="#474747" stroke-width="1.05"/>
<line x1="677.4" y1="235.3" x2="686.5" y2="251.73" stroke="#474747" stroke-width="1.05"/>
<line x1="686.5" y1="251.73" x2="677.4" y2="268.16" stroke="#474747" stroke-width="1.05"/>
<line x1="677.4" y1="268.16" x2="686.5" y2="284.59" stroke="#474747" stroke-width="1.05"/>
<line x1="676.37" y1="271.25" x2="683.33" y2="283.83" stroke="#474747" stroke-width="1.05"/>
<line x1="686.5" y1="284.59" x2="677.4" y2="301.02" stroke="#474747" stroke-width="1.05"/>
<line x1="677.4" y1="301.02" x2="686.5" y2="317.45" stroke="#474747" stroke-width="1.05"/>
<line x1="686.5" y1="317.45" x2="677.4" y2="333.88" stroke="#474747" stroke-width="1.05"/>
<line x1="683.33" y1="318.21" x2="676.37" y2="330.79" stroke="#474747" stroke-width="1.05"/>
<line x1="686.5" y1="86.28" x2="702.6" y2="86.28" stroke="#474747" stroke-width="1.05"/>
<line x1="686.5" y1="88.58" x2="702.6" y2="88.58" stroke="#474747" stroke-width="1.05"/>
<text x="705.6" y="89.73" font-size="6.4" text-anchor="middle" fill="#222" font-weight="normal" font-family="Liberation Sans">O</text>
<line x1="702.3" y1="122.34" x2="702.3" y2="118.24" stroke="#383838" stroke-width="0.85"/>
<line x1="700.3" y1="122.08" x2="700.3" y2="118.5" stroke="#383838" stroke-width="0.85"/>
<line x1="698.3" y1="121.82" x2="698.3" y2="118.76" stroke="#383838" stroke-width="0.85"/>
<line x1="696.3" y1="121.56" x2="696.3" y2="119.02" stroke="#383838" stroke-width="0.85"/>
<line x1="694.3" y1="121.3" x2="694.3" y2="119.28" stroke="#383838" stroke-width="0.85"/>
<line x1="692.3" y1="121.04" x2="692.3" y2="119.54" stroke="#383838" stroke-width="0.85"/>
<line x1="690.3" y1="120.78" x2="690.3" y2="119.8" stroke="#383838" stroke-width="0.85"/>
<line x1="688.3" y1="120.64" x2="688.3" y2="119.94" stroke="#383838" stroke-width="0.85"/>
<text x="704.2" y="122.74" font-size="6.4" text-anchor="start" fill="#222" font-weight="normal" font-family="Liberation Sans">OH</text>
<line x1="658.6" y1="134.47" x2="658.6" y2="138.97" stroke="#383838" stroke-width="0.85"/>
<line x1="660.6" y1="134.71" x2="660.6" y2="138.73" stroke="#383838" stroke-width="0.85"/>
<line x1="662.6" y1="134.95" x2="662.6" y2="138.49" stroke="#383838" stroke-width="0.85"/>
<line x1="664.6" y1="135.19" x2="664.6" y2="138.25" stroke="#383838" stroke-width="0.85"/>
<line x1="666.6" y1="135.43" x2="666.6" y2="138.01" stroke="#383838" stroke-width="0.85"/>
<line x1="668.6" y1="135.67" x2="668.6" y2="137.77" stroke="#383838" stroke-width="0.85"/>
<line x1="670.6" y1="135.91" x2="670.6" y2="137.53" stroke="#383838" stroke-width="0.85"/>
<line x1="672.6" y1="136.14" x2="672.6" y2="137.3" stroke="#383838" stroke-width="0.85"/>
<line x1="674.6" y1="136.37" x2="674.6" y2="137.07" stroke="#383838" stroke-width="0.85"/>
<line x1="702.3" y1="155.2" x2="702.3" y2="151.1" stroke="#383838" stroke-width="0.85"/>
<line x1="700.3" y1="154.94" x2="700.3" y2="151.36" stroke="#383838" stroke-width="0.85"/>
<line x1="698.3" y1="154.68" x2="698.3" y2="151.62" stroke="#383838" stroke-width="0.85"/>
<line x1="696.3" y1="154.42" x2="696.3" y2="151.88" stroke="#383838" stroke-width="0.85"/>
<line x1="694.3" y1="154.16" x2="694.3" y2="152.14" stroke="#383838" stroke-width="0.85"/>
<line x1="692.3" y1="153.9" x2="692.3" y2="152.4" stroke="#383838" stroke-width="0.85"/>
<line x1="690.3" y1="153.64" x2="690.3" y2="152.66" stroke="#383838" stroke-width="0.85"/>
<line x1="688.3" y1="153.5" x2="688.3" y2="152.8" stroke="#383838" stroke-width="0.85"/>
<text x="704.2" y="155.6" font-size="6.4" text-anchor="start" fill="#222" font-weight="normal" font-family="Liberation Sans">OH</text>
<line x1="677.4" y1="169.58" x2="661.1" y2="160.18" stroke="#474747" stroke-width="1.05"/>
<line x1="677.4" y1="169.58" x2="661.1" y2="178.98" stroke="#474747" stroke-width="1.05"/>
<line x1="686.5" y1="184.86" x2="702.6" y2="184.86" stroke="#474747" stroke-width="1.05"/>
<line x1="686.5" y1="187.16" x2="702.6" y2="187.16" stroke="#474747" stroke-width="1.05"/>
<text x="705.6" y="188.31" font-size="6.4" text-anchor="middle" fill="#222" font-weight="normal" font-family="Liberation Sans">O</text>
<line x1="658.6" y1="200.19" x2="658.6" y2="204.69" stroke="#383838" stroke-width="0.85"/>
<line x1="660.6" y1="200.43" x2="660.6" y2="204.45" stroke="#383838" stroke-width="0.85"/>
<line x1="662.6" y1="200.67" x2="662.6" y2="204.21" stroke="#383838" stroke-width="0.85"/>
<line x1="664.6" y1="200.91" x2="664.6" y2="203.97" stroke="#383838" stroke-width="0.85"/>
<line x1="666.6" y1="201.15" x2="666.6" y2="203.73" stroke="#383838" stroke-width="0.85"/>
<line x1="668.6" y1="201.39" x2="668.6" y2="203.49" stroke="#383838" stroke-width="0.85"/>
<line x1="670.6" y1="201.63" x2="670.6" y2="203.25" stroke="#383838" stroke-width="0.85"/>
<line x1="672.6" y1="201.86" x2="672.6" y2="203.02" stroke="#383838" stroke-width="0.85"/>
<line x1="674.6" y1="202.09" x2="674.6" y2="202.79" stroke="#383838" stroke-width="0.85"/>
<polygon points="677.4,234.85 658.2,233.3 658.2,237.3 677.4,235.75" fill="#111"/>
<line x1="702.3" y1="253.78" x2="702.3" y2="249.68" stroke="#383838" stroke-width="0.85"/>
<line x1="700.3" y1="253.52" x2="700.3" y2="249.94" stroke="#383838" stroke-width="0.85"/>
<line x1="698.3" y1="253.26" x2="698.3" y2="250.2" stroke="#383838" stroke-width="0.85"/>
<line x1="696.3" y1="253" x2="696.3" y2="250.46" stroke="#383838" stroke-width="0.85"/>
<line x1="694.3" y1="252.74" x2="694.3" y2="250.72" stroke="#383838" stroke-width="0.85"/>
<line x1="692.3" y1="252.48" x2="692.3" y2="250.98" stroke="#383838" stroke-width="0.85"/>
<line x1="690.3" y1="252.22" x2="690.3" y2="251.24" stroke="#383838" stroke-width="0.85"/>
<line x1="688.3" y1="252.08" x2="688.3" y2="251.38" stroke="#383838" stroke-width="0.85"/>
<text x="704.2" y="254.18" font-size="6.4" text-anchor="start" fill="#222" font-weight="normal" font-family="Liberation Sans">OH</text>
<line x1="677.4" y1="268.16" x2="658.2" y2="268.16" stroke="#474747" stroke-width="1.05"/>
<line x1="658.6" y1="298.77" x2="658.6" y2="303.27" stroke="#383838" stroke-width="0.85"/>
<line x1="660.6" y1="299.01" x2="660.6" y2="303.03" stroke="#383838" stroke-width="0.85"/>
<line x1="662.6" y1="299.25" x2="662.6" y2="302.79" stroke="#383838" stroke-width="0.85"/>
<line x1="664.6" y1="299.49" x2="664.6" y2="302.55" stroke="#383838" stroke-width="0.85"/>
<line x1="666.6" y1="299.73" x2="666.6" y2="302.31" stroke="#383838" stroke-width="0.85"/>
<line x1="668.6" y1="299.97" x2="668.6" y2="302.07" stroke="#383838" stroke-width="0.85"/>
<line x1="670.6" y1="300.21" x2="670.6" y2="301.83" stroke="#383838" stroke-width="0.85"/>
<line x1="672.6" y1="300.44" x2="672.6" y2="301.59" stroke="#383838" stroke-width="0.85"/>
<line x1="674.6" y1="300.67" x2="674.6" y2="301.37" stroke="#383838" stroke-width="0.85"/>
<line x1="677.4" y1="333.88" x2="656.8" y2="333.88" stroke="#474747" stroke-width="1.05"/>
<line x1="664.8" y1="333.88" x2="672.6" y2="347.58" stroke="#474747" stroke-width="1.05"/>
<line x1="10.9" y1="405.9" x2="27.3" y2="396.7" stroke="#474747" stroke-width="1.05"/>
<line x1="27.3" y1="396.7" x2="43.7" y2="405.9" stroke="#474747" stroke-width="1.05"/>
<line x1="30.39" y1="395.68" x2="42.96" y2="402.73" stroke="#474747" stroke-width="1.05"/>
<line x1="43.7" y1="405.9" x2="60.1" y2="396.7" stroke="#474747" stroke-width="1.05"/>
<line x1="60.1" y1="396.7" x2="76.5" y2="405.9" stroke="#474747" stroke-width="1.05"/>
<line x1="76.5" y1="405.9" x2="92.9" y2="396.7" stroke="#474747" stroke-width="1.05"/>
<line x1="77.24" y1="402.73" x2="89.81" y2="395.68" stroke="#474747" stroke-width="1.05"/>
<line x1="92.9" y1="396.7" x2="109.3" y2="405.9" stroke="#474747" stroke-width="1.05"/>
<line x1="109.3" y1="405.9" x2="125.7" y2="396.7" stroke="#474747" stroke-width="1.05"/>
<line x1="125.7" y1="396.7" x2="142.1" y2="405.9" stroke="#474747" stroke-width="1.05"/>
<line x1="142.1" y1="405.9" x2="158.5" y2="396.7" stroke="#474747" stroke-width="1.05"/>
<line x1="158.5" y1="396.7" x2="174.9" y2="405.9" stroke="#474747" stroke-width="1.05"/>
<line x1="174.9" y1="405.9" x2="191.3" y2="396.7" stroke="#474747" stroke-width="1.05"/>
<line x1="191.3" y1="396.7" x2="207.7" y2="405.9" stroke="#474747" stroke-width="1.05"/>
<line x1="207.7" y1="405.9" x2="224.1" y2="396.7" stroke="#474747" stroke-width="1.05"/>
<line x1="224.1" y1="396.7" x2="240.5" y2="405.9" stroke="#474747" stroke-width="1.05"/>
<line x1="240.5" y1="405.9" x2="256.9" y2="396.7" stroke="#474747" stroke-width="1.05"/>
<line x1="256.9" y1="396.7" x2="273.3" y2="405.9" stroke="#474747" stroke-width="1.05"/>
<line x1="27.3" y1="396.7" x2="27.3" y2="377.4" stroke="#474747" stroke-width="1.05"/>
<line x1="61.96" y1="377.8" x2="58.24" y2="377.8" stroke="#383838" stroke-width="0.85"/>
<line x1="61.76" y1="379.8" x2="58.44" y2="379.8" stroke="#383838" stroke-width="0.85"/>
<line x1="61.57" y1="381.8" x2="58.63" y2="381.8" stroke="#383838" stroke-width="0.85"/>
<line x1="61.37" y1="383.8" x2="58.83" y2="383.8" stroke="#383838" stroke-width="0.85"/>
<line x1="61.17" y1="385.8" x2="59.03" y2="385.8" stroke="#383838" stroke-width="0.85"/>
<line x1="60.98" y1="387.8" x2="59.22" y2="387.8" stroke="#383838" stroke-width="0.85"/>
<line x1="60.78" y1="389.8" x2="59.42" y2="389.8" stroke="#383838" stroke-width="0.85"/>
<line x1="60.58" y1="391.8" x2="59.62" y2="391.8" stroke="#383838" stroke-width="0.85"/>
<line x1="60.45" y1="393.8" x2="59.75" y2="393.8" stroke="#383838" stroke-width="0.85"/>
<line x1="92.9" y1="396.7" x2="92.9" y2="377.4" stroke="#474747" stroke-width="1.05"/>
<polygon points="126.15,396.7 127.5,377.4 123.9,377.4 125.25,396.7" fill="#111"/>
<line x1="160.36" y1="377.8" x2="156.64" y2="377.8" stroke="#383838" stroke-width="0.85"/>
<line x1="160.16" y1="379.8" x2="156.84" y2="379.8" stroke="#383838" stroke-width="0.85"/>
<line x1="159.97" y1="381.8" x2="157.03" y2="381.8" stroke="#383838" stroke-width="0.85"/>
<line x1="159.77" y1="383.8" x2="157.23" y2="383.8" stroke="#383838" stroke-width="0.85"/>
<line x1="159.57" y1="385.8" x2="157.43" y2="385.8" stroke="#383838" stroke-width="0.85"/>
<line x1="159.38" y1="387.8" x2="157.62" y2="387.8" stroke="#383838" stroke-width="0.85"/>
<line x1="159.18" y1="389.8" x2="157.82" y2="389.8" stroke="#383838" stroke-width="0.85"/>
<line x1="158.98" y1="391.8" x2="158.02" y2="391.8" stroke="#383838" stroke-width="0.85"/>
<line x1="158.85" y1="393.8" x2="158.15" y2="393.8" stroke="#383838" stroke-width="0.85"/>
<line x1="225.96" y1="377.8" x2="222.24" y2="377.8" stroke="#383838" stroke-width="0.85"/>
<line x1="225.76" y1="379.8" x2="222.44" y2="379.8" stroke="#383838" stroke-width="0.85"/>
<line x1="225.57" y1="381.8" x2="222.63" y2="381.8" stroke="#383838" stroke-width="0.85"/>
<line x1="225.37" y1="383.8" x2="222.83" y2="383.8" stroke="#383838" stroke-width="0.85"/>
<line x1="225.17" y1="385.8" x2="223.03" y2="385.8" stroke="#383838" stroke-width="0.85"/>
<line x1="224.98" y1="387.8" x2="223.22" y2="387.8" stroke="#383838" stroke-width="0.85"/>
<line x1="224.78" y1="389.8" x2="223.42" y2="389.8" stroke="#383838" stroke-width="0.85"/>
<line x1="224.58" y1="391.8" x2="223.62" y2="391.8" stroke="#383838" stroke-width="0.85"/>
<line x1="224.45" y1="393.8" x2="223.75" y2="393.8" stroke="#383838" stroke-width="0.85"/>
<line x1="107.45" y1="420.9" x2="111.15" y2="420.9" stroke="#383838" stroke-width="0.85"/>
<line x1="107.7" y1="418.9" x2="110.9" y2="418.9" stroke="#383838" stroke-width="0.85"/>
<line x1="107.94" y1="416.9" x2="110.66" y2="416.9" stroke="#383838" stroke-width="0.85"/>
<line x1="108.19" y1="414.9" x2="110.41" y2="414.9" stroke="#383838" stroke-width="0.85"/>
<line x1="108.44" y1="412.9" x2="110.16" y2="412.9" stroke="#383838" stroke-width="0.85"/>
<line x1="108.68" y1="410.9" x2="109.92" y2="410.9" stroke="#383838" stroke-width="0.85"/>
<line x1="108.93" y1="408.9" x2="109.67" y2="408.9" stroke="#383838" stroke-width="0.85"/>
<text x="107.2" y="428" font-size="6.4" text-anchor="start" fill="#222" font-weight="normal" font-family="Liberation Sans">OH</text>
<line x1="205.85" y1="420.9" x2="209.55" y2="420.9" stroke="#383838" stroke-width="0.85"/>
<line x1="206.1" y1="418.9" x2="209.3" y2="418.9" stroke="#383838" stroke-width="0.85"/>
<line x1="206.34" y1="416.9" x2="209.06" y2="416.9" stroke="#383838" stroke-width="0.85"/>
<line x1="206.59" y1="414.9" x2="208.81" y2="414.9" stroke="#383838" stroke-width="0.85"/>
<line x1="206.84" y1="412.9" x2="208.56" y2="412.9" stroke="#383838" stroke-width="0.85"/>
<line x1="207.08" y1="410.9" x2="208.32" y2="410.9" stroke="#383838" stroke-width="0.85"/>
<line x1="207.33" y1="408.9" x2="208.07" y2="408.9" stroke="#383838" stroke-width="0.85"/>
<text x="205.6" y="428" font-size="6.4" text-anchor="start" fill="#222" font-weight="normal" font-family="Liberation Sans">OH</text>
<line x1="238.65" y1="420.9" x2="242.35" y2="420.9" stroke="#383838" stroke-width="0.85"/>
<line x1="238.9" y1="418.9" x2="242.1" y2="418.9" stroke="#383838" stroke-width="0.85"/>
<line x1="239.14" y1="416.9" x2="241.86" y2="416.9" stroke="#383838" stroke-width="0.85"/>
<line x1="239.39" y1="414.9" x2="241.61" y2="414.9" stroke="#383838" stroke-width="0.85"/>
<line x1="239.64" y1="412.9" x2="241.36" y2="412.9" stroke="#383838" stroke-width="0.85"/>
<line x1="239.88" y1="410.9" x2="241.12" y2="410.9" stroke="#383838" stroke-width="0.85"/>
<line x1="240.13" y1="408.9" x2="240.87" y2="408.9" stroke="#383838" stroke-width="0.85"/>
<text x="238.4" y="428" font-size="6.4" text-anchor="start" fill="#222" font-weight="normal" font-family="Liberation Sans">OH</text>
<line x1="191.3" y1="396.7" x2="182.3" y2="380.1" stroke="#474747" stroke-width="1.05"/>
<line x1="191.3" y1="396.7" x2="200.5" y2="380.1" stroke="#474747" stroke-width="1.05"/>
<line x1="176.05" y1="405.9" x2="176.05" y2="422.1" stroke="#474747" stroke-width="1.05"/>
<line x1="173.75" y1="405.9" x2="173.75" y2="422.1" stroke="#474747" stroke-width="1.05"/>
<text x="174.9" y="427.4" font-size="6.4" text-anchor="middle" fill="#222" font-weight="normal" font-family="Liberation Sans">O</text>
<line x1="274.45" y1="405.9" x2="274.45" y2="422.1" stroke="#474747" stroke-width="1.05"/>
<line x1="272.15" y1="405.9" x2="272.15" y2="422.1" stroke="#474747" stroke-width="1.05"/>
<text x="273.3" y="427.4" font-size="6.4" text-anchor="middle" fill="#222" font-weight="normal" font-family="Liberation Sans">O</text>
<line x1="273.3" y1="405.9" x2="287.08" y2="398.17" stroke="#474747" stroke-width="1.05"/>
<text x="289.9" y="399" font-size="6.4" text-anchor="middle" fill="#222" font-weight="normal" font-family="Liberation Sans">O</text>
<line x1="450" y1="405.9" x2="466.44" y2="396.7" stroke="#474747" stroke-width="1.05"/>
<line x1="466.44" y1="396.7" x2="482.88" y2="405.9" stroke="#474747" stroke-width="1.05"/>
<line x1="469.53" y1="395.68" x2="482.13" y2="402.73" stroke="#474747" stroke-width="1.05"/>
<line x1="482.88" y1="405.9" x2="499.32" y2="396.7" stroke="#474747" stroke-width="1.05"/>
<line x1="499.32" y1="396.7" x2="515.76" y2="405.9" stroke="#474747" stroke-width="1.05"/>
<line x1="515.76" y1="405.9" x2="532.2" y2="396.7" stroke="#474747" stroke-width="1.05"/>
<line x1="532.2" y1="396.7" x2="548.64" y2="405.9" stroke="#474747" stroke-width="1.05"/>
<line x1="548.64" y1="405.9" x2="565.08" y2="396.7" stroke="#474747" stroke-width="1.05"/>
<line x1="565.08" y1="396.7" x2="581.52" y2="405.9" stroke="#474747" stroke-width="1.05"/>
<line x1="581.52" y1="405.9" x2="597.96" y2="396.7" stroke="#474747" stroke-width="1.05"/>
<line x1="597.96" y1="396.7" x2="614.4" y2="405.9" stroke="#474747" stroke-width="1.05"/>
<line x1="614.4" y1="405.9" x2="630.84" y2="396.7" stroke="#474747" stroke-width="1.05"/>
<line x1="630.84" y1="396.7" x2="647.28" y2="405.9" stroke="#474747" stroke-width="1.05"/>
<line x1="647.28" y1="405.9" x2="663.72" y2="396.7" stroke="#474747" stroke-width="1.05"/>
<line x1="663.72" y1="396.7" x2="680.16" y2="405.9" stroke="#474747" stroke-width="1.05"/>
<line x1="680.16" y1="405.9" x2="696.6" y2="396.7" stroke="#474747" stroke-width="1.05"/>
<line x1="696.6" y1="396.7" x2="713.04" y2="405.9" stroke="#474747" stroke-width="1.05"/>
<line x1="466.44" y1="396.7" x2="466.44" y2="377.4" stroke="#474747" stroke-width="1.05"/>
<line x1="501.18" y1="377.8" x2="497.46" y2="377.8" stroke="#383838" stroke-width="0.85"/>
<line x1="500.98" y1="379.8" x2="497.66" y2="379.8" stroke="#383838" stroke-width="0.85"/>
<line x1="500.79" y1="381.8" x2="497.85" y2="381.8" stroke="#383838" stroke-width="0.85"/>
<line x1="500.59" y1="383.8" x2="498.05" y2="383.8" stroke="#383838" stroke-width="0.85"/>
<line x1="500.39" y1="385.8" x2="498.25" y2="385.8" stroke="#383838" stroke-width="0.85"/>
<line x1="500.2" y1="387.8" x2="498.44" y2="387.8" stroke="#383838" stroke-width="0.85"/>
<line x1="500" y1="389.8" x2="498.64" y2="389.8" stroke="#383838" stroke-width="0.85"/>
<line x1="499.8" y1="391.8" x2="498.84" y2="391.8" stroke="#383838" stroke-width="0.85"/>
<line x1="499.67" y1="393.8" x2="498.97" y2="393.8" stroke="#383838" stroke-width="0.85"/>
<line x1="532.2" y1="396.7" x2="532.2" y2="377.4" stroke="#474747" stroke-width="1.05"/>
<polygon points="565.53,396.7 566.88,377.4 563.28,377.4 564.63,396.7" fill="#111"/>
<line x1="599.82" y1="377.8" x2="596.1" y2="377.8" stroke="#383838" stroke-width="0.85"/>
<line x1="599.62" y1="379.8" x2="596.3" y2="379.8" stroke="#383838" stroke-width="0.85"/>
<line x1="599.43" y1="381.8" x2="596.49" y2="381.8" stroke="#383838" stroke-width="0.85"/>
<line x1="599.23" y1="383.8" x2="596.69" y2="383.8" stroke="#383838" stroke-width="0.85"/>
<line x1="599.03" y1="385.8" x2="596.89" y2="385.8" stroke="#383838" stroke-width="0.85"/>
<line x1="598.84" y1="387.8" x2="597.08" y2="387.8" stroke="#383838" stroke-width="0.85"/>
<line x1="598.64" y1="389.8" x2="597.28" y2="389.8" stroke="#383838" stroke-width="0.85"/>
<line x1="598.44" y1="391.8" x2="597.48" y2="391.8" stroke="#383838" stroke-width="0.85"/>
<line x1="598.31" y1="393.8" x2="597.61" y2="393.8" stroke="#383838" stroke-width="0.85"/>
<line x1="665.58" y1="377.8" x2="661.86" y2="377.8" stroke="#383838" stroke-width="0.85"/>
<line x1="665.38" y1="379.8" x2="662.06" y2="379.8" stroke="#383838" stroke-width="0.85"/>
<line x1="665.19" y1="381.8" x2="662.25" y2="381.8" stroke="#383838" stroke-width="0.85"/>
<line x1="664.99" y1="383.8" x2="662.45" y2="383.8" stroke="#383838" stroke-width="0.85"/>
<line x1="664.79" y1="385.8" x2="662.65" y2="385.8" stroke="#383838" stroke-width="0.85"/>
<line x1="664.6" y1="387.8" x2="662.84" y2="387.8" stroke="#383838" stroke-width="0.85"/>
<line x1="664.4" y1="389.8" x2="663.04" y2="389.8" stroke="#383838" stroke-width="0.85"/>
<line x1="664.2" y1="391.8" x2="663.24" y2="391.8" stroke="#383838" stroke-width="0.85"/>
<line x1="664.07" y1="393.8" x2="663.37" y2="393.8" stroke="#383838" stroke-width="0.85"/>
<line x1="546.79" y1="420.9" x2="550.49" y2="420.9" stroke="#383838" stroke-width="0.85"/>
<line x1="547.04" y1="418.9" x2="550.24" y2="418.9" stroke="#383838" stroke-width="0.85"/>
<line x1="547.28" y1="416.9" x2="550" y2="416.9" stroke="#383838" stroke-width="0.85"/>
<line x1="547.53" y1="414.9" x2="549.75" y2="414.9" stroke="#383838" stroke-width="0.85"/>
<line x1="547.78" y1="412.9" x2="549.5" y2="412.9" stroke="#383838" stroke-width="0.85"/>
<line x1="548.02" y1="410.9" x2="549.26" y2="410.9" stroke="#383838" stroke-width="0.85"/>
<line x1="548.27" y1="408.9" x2="549.01" y2="408.9" stroke="#383838" stroke-width="0.85"/>
<text x="546.54" y="428" font-size="6.4" text-anchor="start" fill="#222" font-weight="normal" font-family="Liberation Sans">OH</text>
<line x1="645.43" y1="420.9" x2="649.13" y2="420.9" stroke="#383838" stroke-width="0.85"/>
<line x1="645.68" y1="418.9" x2="648.88" y2="418.9" stroke="#383838" stroke-width="0.85"/>
<line x1="645.92" y1="416.9" x2="648.64" y2="416.9" stroke="#383838" stroke-width="0.85"/>
<line x1="646.17" y1="414.9" x2="648.39" y2="414.9" stroke="#383838" stroke-width="0.85"/>
<line x1="646.42" y1="412.9" x2="648.14" y2="412.9" stroke="#383838" stroke-width="0.85"/>
<line x1="646.66" y1="410.9" x2="647.9" y2="410.9" stroke="#383838" stroke-width="0.85"/>
<line x1="646.91" y1="408.9" x2="647.65" y2="408.9" stroke="#383838" stroke-width="0.85"/>
<text x="644.28" y="428" font-size="6.4" text-anchor="start" fill="#222" font-weight="normal" font-family="Liberation Sans">OMe</text>
<line x1="678.31" y1="420.9" x2="682.01" y2="420.9" stroke="#383838" stroke-width="0.85"/>
<line x1="678.56" y1="418.9" x2="681.76" y2="418.9" stroke="#383838" stroke-width="0.85"/>
<line x1="678.8" y1="416.9" x2="681.52" y2="416.9" stroke="#383838" stroke-width="0.85"/>
<line x1="679.05" y1="414.9" x2="681.27" y2="414.9" stroke="#383838" stroke-width="0.85"/>
<line x1="679.3" y1="412.9" x2="681.02" y2="412.9" stroke="#383838" stroke-width="0.85"/>
<line x1="679.54" y1="410.9" x2="680.78" y2="410.9" stroke="#383838" stroke-width="0.85"/>
<line x1="679.79" y1="408.9" x2="680.53" y2="408.9" stroke="#383838" stroke-width="0.85"/>
<text x="678.06" y="428" font-size="6.4" text-anchor="start" fill="#222" font-weight="normal" font-family="Liberation Sans">OH</text>
<line x1="630.84" y1="396.7" x2="621.84" y2="380.1" stroke="#474747" stroke-width="1.05"/>
<line x1="630.84" y1="396.7" x2="640.04" y2="380.1" stroke="#474747" stroke-width="1.05"/>
<line x1="528.07" y1="415.78" x2="530.04" y2="412.64" stroke="#383838" stroke-width="0.85"/>
<line x1="526.5" y1="414.52" x2="528.22" y2="411.78" stroke="#383838" stroke-width="0.85"/>
<line x1="524.93" y1="413.26" x2="526.4" y2="410.92" stroke="#383838" stroke-width="0.85"/>
<line x1="523.36" y1="412" x2="524.57" y2="410.06" stroke="#383838" stroke-width="0.85"/>
<line x1="521.79" y1="410.74" x2="522.75" y2="409.2" stroke="#383838" stroke-width="0.85"/>
<line x1="520.22" y1="409.48" x2="520.93" y2="408.34" stroke="#383838" stroke-width="0.85"/>
<line x1="518.65" y1="408.22" x2="519.11" y2="407.48" stroke="#383838" stroke-width="0.85"/>
<line x1="517" y1="407.09" x2="517.37" y2="406.49" stroke="#383838" stroke-width="0.85"/>
<line x1="529.84" y1="412.74" x2="533.55" y2="412.86" stroke="#383838" stroke-width="0.85"/>
<line x1="530.13" y1="410.75" x2="533.38" y2="410.85" stroke="#383838" stroke-width="0.85"/>
<line x1="530.43" y1="408.76" x2="533.21" y2="408.85" stroke="#383838" stroke-width="0.85"/>
<line x1="530.72" y1="406.77" x2="533.05" y2="406.84" stroke="#383838" stroke-width="0.85"/>
<line x1="531.01" y1="404.78" x2="532.88" y2="404.83" stroke="#383838" stroke-width="0.85"/>
<line x1="531.31" y1="402.78" x2="532.71" y2="402.83" stroke="#383838" stroke-width="0.85"/>
<line x1="531.6" y1="400.79" x2="532.54" y2="400.82" stroke="#383838" stroke-width="0.85"/>
<line x1="531.78" y1="398.8" x2="532.48" y2="398.82" stroke="#383838" stroke-width="0.85"/>
<text x="531.6" y="417.96" font-size="6.0" text-anchor="middle" fill="#222" font-weight="normal" font-family="Liberation Sans">O</text>
<line x1="615.55" y1="405.9" x2="615.55" y2="422.1" stroke="#474747" stroke-width="1.05"/>
<line x1="613.25" y1="405.9" x2="613.25" y2="422.1" stroke="#474747" stroke-width="1.05"/>
<text x="614.4" y="427.4" font-size="6.4" text-anchor="middle" fill="#222" font-weight="normal" font-family="Liberation Sans">O</text>
<line x1="714.19" y1="405.9" x2="714.19" y2="422.1" stroke="#474747" stroke-width="1.05"/>
<line x1="711.89" y1="405.9" x2="711.89" y2="422.1" stroke="#474747" stroke-width="1.05"/>
<text x="713.04" y="427.4" font-size="6.4" text-anchor="middle" fill="#222" font-weight="normal" font-family="Liberation Sans">O</text>
<line x1="713.04" y1="405.9" x2="726.65" y2="398.27" stroke="#474747" stroke-width="1.05"/>
<text x="726.8" y="399.15" font-size="6.4" text-anchor="start" fill="#222" font-weight="normal" font-family="Liberation Sans">OH</text>
<line x1="320.8" y1="399.9" x2="412" y2="399.9" stroke="#111" stroke-width="1.4"/>
<polygon points="417,399.9 410.5,396.8 410.5,403" fill="#111"/>
<rect x="344.6" y="368.1" width="11.5" height="2.3" fill="#000"/>
<polygon points="364.1,369.2 355.3,364.5 355.3,373.9" fill="#000"/>
<rect x="370.1" y="368.1" width="10.8" height="2.3" fill="#000"/>
<polygon points="388.9,369.2 380.1,364.5 380.1,373.9" fill="#000"/>
<text class="gp" x="352" y="361.4" font-size="4.4" text-anchor="middle" fill="#111" font-weight="normal" font-family="Liberation Sans">GphA</text>
<text class="gp" x="378.7" y="361.4" font-size="4.4" text-anchor="middle" fill="#111" font-weight="normal" font-family="Liberation Sans">GphK or GphL</text>
<circle cx="352.2" cy="384.3" r="7.3" fill="none" stroke="#ececec" stroke-width="0.8"/>
<circle cx="376.8" cy="384.3" r="7.0" fill="none" stroke="#f0f0f0" stroke-width="0.8"/>
<text class="gp" x="352.3" y="385.9" font-size="5.3" text-anchor="middle" fill="#222" font-weight="normal" font-family="Liberation Sans">OMT</text>
<text class="gp" x="376.8" y="385.9" font-size="5.3" text-anchor="middle" fill="#222" font-weight="normal" font-family="Liberation Sans">Ox</text>
</svg>
</body></html>
